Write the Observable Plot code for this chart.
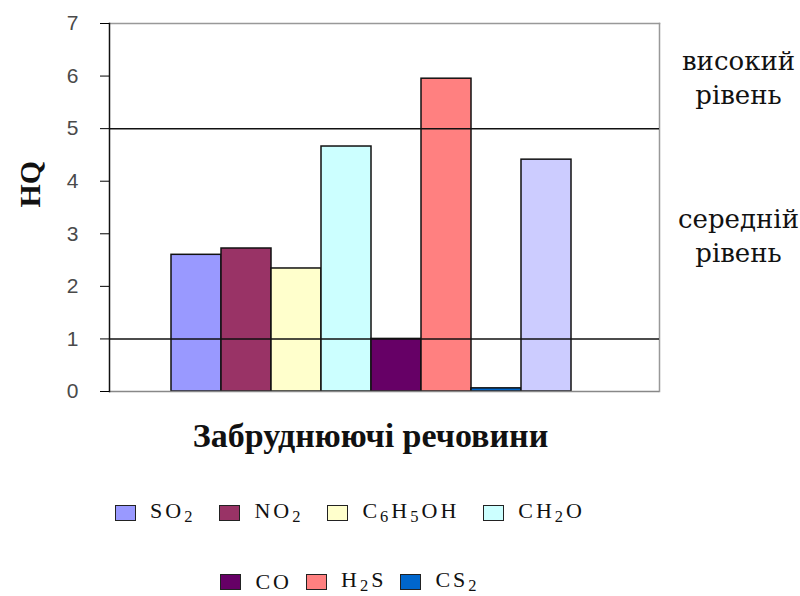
<!DOCTYPE html>
<html>
<head>
<meta charset="utf-8">
<script src="https://cdn.jsdelivr.net/npm/d3@7"></script>
<script src="https://cdn.jsdelivr.net/npm/@observablehq/plot@0.6"></script>
<style>
  body { margin: 0; background: #fff; }
  #chart { position: relative; width: 800px; }
  .legend { width: 700px; display: flex; justify-content: center; align-items: center;
            font-family: "Liberation Serif", "Times New Roman", serif; font-size: 22px;
            letter-spacing: 3px; color: #111; }
  .legend .item { display: flex; align-items: center; }
  .legend .sw { width: 19px; height: 14px; border: 1.5px solid #222; margin-right: 14px; }
  .legend sub { font-size: 0.75em; vertical-align: -0.25em; }
  #row1 { margin-top: 28px; gap: 24px; }
  #row2 { margin-top: 40px; gap: 14px; }
</style>
</head>
<body>
<div id="chart"></div>
<script>
// Hazard quotient (HQ) per pollutant
const substances = ["SO2", "NO2", "C6H5OH", "CH2O", "CO", "H2S", "CS2", "Σ"];
const hqValues   = [2.60, 2.72, 2.34, 4.66, 1.00, 5.95, 0.06, 4.41];
const barColors  = ["#9999FF", "#993366", "#FFFFCC", "#CCFFFF", "#660066", "#FF8080", "#0066CC", "#CCCCFF"];
// legend labels (HTML with subscripts) for the first seven bars
const legendLabels = ["SO<sub>2</sub>", "NO<sub>2</sub>", "C<sub>6</sub>H<sub>5</sub>OH", "CH<sub>2</sub>O",
                      "CO", "H<sub>2</sub>S", "CS<sub>2</sub>"];
// risk level boundaries and their names
const levelBounds = [1, 5];
const levelNames  = ["середній\nрівень", "високий\nрівень"];
const levelMids   = [3, 6];
const yTicks = [0, 1, 2, 3, 4, 5, 6, 7];

const data = substances.map((name, i) => ({name, value: hqValues[i], color: barColors[i]}));
const levels = levelNames.map((label, i) => ({label, y: levelMids[i]}));

const serif = "'Liberation Serif', 'DejaVu Serif', serif";

const plot = Plot.plot({
  width: 800,
  height: 470,
  marginLeft: 109,
  marginRight: 141,
  marginTop: 23,
  marginBottom: 79,
  x: {type: "band", domain: substances, paddingInner: 0, paddingOuter: 1.46, align: 0.41, axis: null},
  y: {domain: [0, 7], axis: null},
  marks: [
    Plot.frame({anchor: "top", stroke: "#999", strokeWidth: 1.5}),
    Plot.frame({anchor: "right", stroke: "#999", strokeWidth: 1.5}),
    Plot.barY(data, {x: "name", y: "value", fill: "color", stroke: "#111", strokeWidth: 1.5}),
    Plot.ruleY(levelBounds, {stroke: "#111", strokeWidth: 1.5}),
    Plot.ruleY([0], {stroke: "#888", strokeWidth: 1.5}),
    Plot.frame({anchor: "left", stroke: "#111", strokeWidth: 1.5}),
    Plot.axisY({ticks: yTicks, tickSize: 9, tickPadding: 22, fontSize: 21, fill: "#4a4a4a",
                fontFamily: "Arial, 'Liberation Sans', sans-serif", label: null, tickFormat: d => d}),
    Plot.text(["HQ"], {frameAnchor: "left", dx: -79, rotate: -90, fontSize: 30, fontWeight: "bold",
                       fill: "#111", fontFamily: serif}),
    Plot.text(["Забруднюючі речовини"], {frameAnchor: "bottom", dx: -14, dy: 55, fontSize: 34, fontWeight: "bold",
                       fill: "#111", fontFamily: serif}),
    Plot.text(levels, {y: "y", text: "label", frameAnchor: "right", dx: 79, textAnchor: "middle",
                       fontSize: 26, lineHeight: 1.32, fill: "#111", fontFamily: "'DejaVu Serif', serif"})
  ]
});
document.getElementById("chart").append(plot);

function legendRow(id, indices) {
  const row = document.createElement("div");
  row.className = "legend";
  row.id = id;
  for (const i of indices) {
    const item = document.createElement("div");
    item.className = "item";
    const sw = document.createElement("span");
    sw.className = "sw";
    sw.style.background = barColors[i];
    const lab = document.createElement("span");
    lab.innerHTML = legendLabels[i];
    item.append(sw, lab);
    row.append(item);
  }
  document.getElementById("chart").append(row);
}
legendRow("row1", [0, 1, 2, 3]);
legendRow("row2", [4, 5, 6]);
</script>
</body>
</html>
